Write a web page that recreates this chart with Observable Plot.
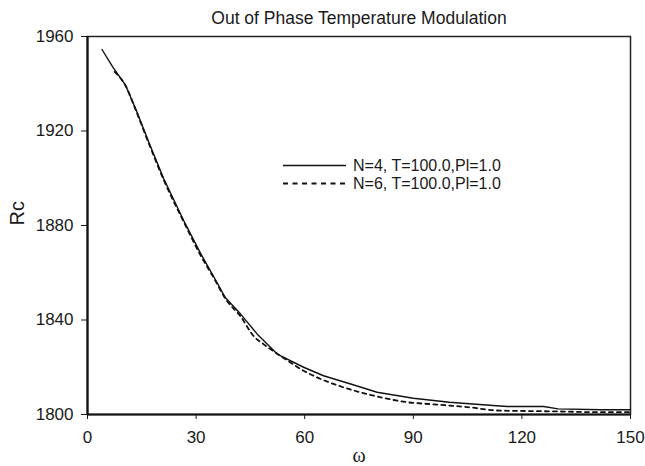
<!DOCTYPE html>
<html><head><meta charset="utf-8">
<script src="https://cdn.jsdelivr.net/npm/d3@7"></script>
<script src="https://cdn.jsdelivr.net/npm/@observablehq/plot@0.6"></script>
<style>body{margin:0;background:#fff;} #chart{width:645px;height:466px;}</style>
</head><body><div id="chart"></div>
<script>
const title = "Out of Phase Temperature Modulation";
const xLabel = "ω";
const yLabel = "Rc";
const xTicks = [0, 30, 60, 90, 120, 150];
const yTicks = [1800, 1840, 1880, 1920, 1960];
const seriesNames = ["N=4, T=100.0,Pl=1.0", "N=6, T=100.0,Pl=1.0"];

const omegaN4 = [4, 7, 10.5, 13.3, 17, 21, 26.6, 31.2, 35, 38.1, 42.3, 46.9, 52.4, 59.7, 65.2, 72.7, 80, 90, 100, 112, 116, 126, 130, 142, 150];
const rcN4 = [1954.5, 1947, 1939.4, 1929.4, 1915, 1900, 1882, 1868.3, 1858, 1849.4, 1842.5, 1834, 1825.6, 1820, 1816.4, 1812.9, 1809.4, 1806.9, 1805.2, 1803.8, 1803.4, 1803.4, 1802.4, 1802, 1802];

const omegaN6 = [7.5, 10.5, 13.3, 17, 21, 26.6, 31.2, 35, 38.1, 42.3, 46, 48.6, 54.7, 59.7, 63, 70.7, 79, 88.3, 95.6, 105.8, 113, 120, 130, 140, 150];
const rcN6 = [1945, 1939.2, 1929, 1914.5, 1899.5, 1881.5, 1867.5, 1857.5, 1849, 1841.5, 1833, 1829.8, 1823.4, 1818.5, 1816, 1811.5, 1808, 1805.2, 1804.3, 1803, 1801.7, 1801.5, 1801.3, 1801, 1801];

const rows4 = omegaN4.map((w, i) => ({series: seriesNames[0], omega: w, rc: rcN4[i]}));
const rows6 = omegaN6.map((w, i) => ({series: seriesNames[1], omega: w, rc: rcN6[i]}));

const font = "'Liberation Sans', Arial, Helvetica, sans-serif";
const plot = Plot.plot({
  width: 645, height: 466,
  marginTop: 36, marginBottom: 52, marginLeft: 87, marginRight: 15,
  style: {fontFamily: font, fontSize: "17px", color: "#1a1a1a", background: "#fff"},
  x: {domain: [0, 150]},
  y: {domain: [1800, 1960]},
  marks: [
    Plot.frame({stroke: "#222", strokeWidth: 1.5}),
    Plot.axisX({ticks: xTicks, tickSize: 5, tickPadding: 11, label: null, fontSize: 17}),
    Plot.axisY({ticks: yTicks, tickSize: 6, tickPadding: 8, label: null, fontSize: 17, tickFormat: d => String(d)}),
    Plot.ruleX([0], {stroke: "#111", strokeWidth: 2.2}),
    Plot.ruleY([1800], {stroke: "#111", strokeWidth: 2.2}),
    Plot.line(rows6, {x: "omega", y: "rc", stroke: "#111", strokeWidth: 1.8, strokeDasharray: "4,4", curve: "monotone-x"}),
    Plot.line(rows4, {x: "omega", y: "rc", stroke: "#111", strokeWidth: 1.4}),
    Plot.text([title], {frameAnchor: "top", dx: 0, dy: -18, fontSize: 17.5, lineAnchor: "middle", fill: "#1a1a1a"}),
    Plot.text([yLabel], {frameAnchor: "left", dx: -70, rotate: -90, fontSize: 20, lineAnchor: "middle", fill: "#1a1a1a"}),
    Plot.text([xLabel], {frameAnchor: "bottom", dx: 0, dy: 41, fontSize: 20, lineAnchor: "middle", fill: "#1a1a1a", fontFamily: "'Liberation Serif', 'Times New Roman', serif"})
  ]
});
document.getElementById("chart").appendChild(plot);

// legend
const svg = d3.select(plot);
const leg = svg.append("g").attr("font-family", font).attr("font-size", 16).attr("fill", "#1a1a1a").attr("text-anchor", "start");
const legendRows = [{name: seriesNames[0], dash: null, w: 1.4}, {name: seriesNames[1], dash: "5,4.5", w: 1.8}];
legendRows.forEach((r, i) => {
  const y = 165.5 + i * 18;
  leg.append("line").attr("x1", 283).attr("x2", 346).attr("y1", y).attr("y2", y)
    .attr("stroke", "#111").attr("stroke-width", r.w).attr("stroke-dasharray", r.dash);
  leg.append("text").attr("x", 353).attr("y", y + 5.5).text(r.name);
});
</script>
</body></html>
